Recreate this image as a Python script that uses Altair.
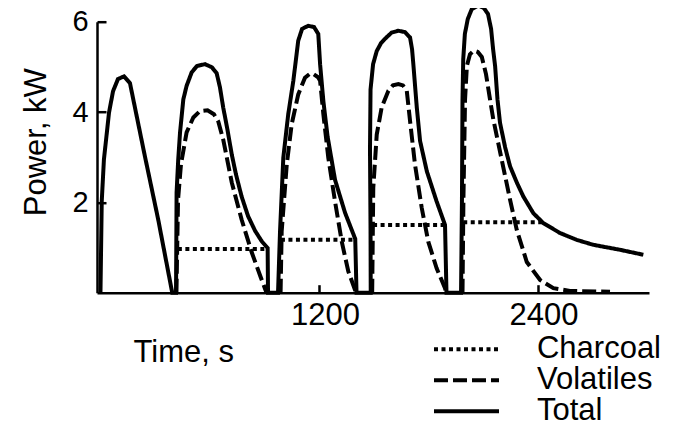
import altair as alt
import pandas as pd

# ---- data (time in s, power in kW) ----
total_t = [0, 7, 19, 47, 69, 96, 129, 162, 244, 317, 394, 415,
           418, 427, 437, 455, 473, 501, 530, 574, 612, 638, 656, 674, 695, 721, 744, 775, 810, 849, 887, 918, 920, 975,
           986, 1004, 1031, 1059, 1086, 1107, 1141, 1173, 1196, 1206, 1224, 1247, 1288, 1343, 1399, 1406, 1484,
           1483, 1480, 1483, 1497, 1517, 1541, 1562, 1599, 1636, 1672, 1700, 1711, 1718, 1737, 1755, 1792, 1846, 1892, 1900, 1980,
           1985, 1988, 1992, 2001, 2017, 2039, 2075, 2106, 2128, 2145, 2156, 2167, 2180, 2194, 2222, 2249, 2286, 2322, 2377, 2432,
           2524, 2615, 2706, 2853, 2981]
total_p = [0, 2.02, 2.95, 3.99, 4.46, 4.73, 4.79, 4.64, 3.02, 1.62, 0, 0,
           2.22, 2.95, 3.55, 4.28, 4.58, 4.88, 5.02, 5.06, 4.99, 4.86, 4.55, 4.10, 3.66, 3.06, 2.62, 2.13, 1.70, 1.37, 1.13, 0.99, 0, 0,
           1.36, 2.99, 3.95, 4.69, 5.58, 5.84, 5.91, 5.88, 5.73, 5.06, 4.24, 3.46, 2.50, 1.77, 1.19, 0, 0,
           1.39, 3.17, 4.50, 5.06, 5.35, 5.53, 5.62, 5.76, 5.80, 5.77, 5.65, 5.39, 5.06, 4.10, 3.36, 2.69, 2.02, 1.50, 0, 0,
           2.06, 4.28, 5.17, 5.73, 6.06, 6.28, 6.36, 6.30, 6.17, 5.84, 5.39, 5.02, 4.28, 3.76, 3.22, 2.80, 2.44, 2.13, 1.76, 1.54,
           1.32, 1.17, 1.06, 0.95, 0.84]

vol_segments = [
    ([417, 426, 442, 473, 510, 546, 588, 623, 647, 674, 721, 775, 830, 881, 912],
     [0, 2.06, 2.84, 3.55, 3.88, 4.02, 4.04, 3.95, 3.79, 3.39, 2.44, 1.62, 0.90, 0.33, 0]),
    ([989, 995, 1023, 1050, 1086, 1123, 1151, 1169, 1195, 1206, 1224, 1251, 1288, 1325, 1361, 1398, 1403],
     [0, 1.36, 2.84, 3.73, 4.39, 4.76, 4.85, 4.84, 4.77, 4.69, 3.95, 2.99, 2.02, 1.13, 0.47, 0.06, 0]),
    ([1492, 1498, 1517, 1544, 1581, 1606, 1636, 1661, 1682, 1700, 1727, 1764, 1800, 1846, 1892, 1898],
     [0, 2.32, 3.50, 4.10, 4.47, 4.59, 4.62, 4.59, 4.47, 3.80, 2.84, 1.88, 1.13, 0.54, 0.10, 0]),
    ([1988, 1993, 2002, 2012, 2029, 2050, 2072, 2094, 2117, 2139, 2157, 2203, 2249, 2286, 2341, 2414, 2487, 2578, 2798],
     [0, 2.06, 4.28, 5.02, 5.28, 5.36, 5.33, 5.22, 4.84, 4.28, 3.84, 2.95, 2.06, 1.39, 0.68, 0.28, 0.10, 0.04, 0.02]),
]

char_segments = [
    ([425, 918], [0.97, 0.97]),
    ([991, 1400], [1.17, 1.17]),
    ([1497, 1892], [1.50, 1.50]),
    ([1992, 2432], [1.56, 1.56]),
]

series_names = ["Charcoal", "Volatiles", "Total"]
x_ticks = [1200, 2400]
y_ticks = [2, 4, 6]

# ---- build long table ----
rows = []
for k, (ts, ps) in enumerate(char_segments):
    for i, (t, p) in enumerate(zip(ts, ps)):
        rows.append({"t": t, "P": p, "series": "Charcoal", "seg": f"c{k}", "i": i})
for k, (ts, ps) in enumerate(vol_segments):
    for i, (t, p) in enumerate(zip(ts, ps)):
        rows.append({"t": t, "P": p, "series": "Volatiles", "seg": f"v{k}", "i": i})
for i, (t, p) in enumerate(zip(total_t, total_p)):
    rows.append({"t": t, "P": p, "series": "Total", "seg": "z", "i": i})
df = pd.DataFrame(rows)

FONT = "Liberation Sans"
xscale = alt.Scale(domain=[-19, 3012], nice=False, zero=False)
yscale = alt.Scale(domain=[0, 6], nice=False, zero=False)

main = alt.Chart(df).mark_line(strokeWidth=4, color="black", clip=False, strokeCap="butt").encode(
    x=alt.X("t:Q", scale=xscale,
            axis=alt.Axis(values=x_ticks, format="d", ticks=False, domain=True, domainWidth=2.5,
                          domainColor="black", labelFontSize=31, labelFont=FONT, labelColor="black",
                          labelPadding=8, labelOffset=6,
                          grid=False, title="Time, s", titleFont=FONT, titleFontSize=31,
                          titleFontWeight="normal", titleColor="black", titleX=36, titleY=69,
                          titleAlign="left", titleBaseline="alphabetic", orient="bottom")),
    y=alt.Y("P:Q", scale=yscale,
            axis=alt.Axis(values=y_ticks, format="d", ticks=False, domain=True, domainWidth=2.5,
                          domainColor="black", labelFontSize=29, labelFont=FONT, labelColor="black",
                          labelPadding=9,
                          grid=False, title="Power, kW", titleFont=FONT, titleFontSize=31,
                          titleFontWeight="normal", titleColor="black", titleX=-52, titleY=120,
                          titleAngle=-90, titleAlign="center", titleBaseline="alphabetic", orient="left")),
    strokeDash=alt.StrokeDash("series:N",
                              scale=alt.Scale(domain=series_names, range=[[4, 3.5], [14, 5], [1, 0]]),
                              legend=alt.Legend(title=None, orient="none", legendX=354, legendY=312,
                                                symbolType="M-2.5,0H2.5", symbolSize=676, symbolStrokeWidth=4,
                                                symbolStrokeColor="black", labelFontSize=31, labelFont=FONT,
                                                labelColor="black", labelOffset=55, rowPadding=-5, padding=0)),
    detail="seg:N",
    order="i:Q",
)

ticks_layer = alt.Chart(df).mark_line(opacity=0).encode(
    x=alt.X("t:Q", scale=xscale,
            axis=alt.Axis(values=x_ticks, ticks=True, tickSize=8, tickWidth=2.5, tickColor="black",
                          labels=False, domain=False, grid=False, title=None, offset=-8, orient="bottom")),
    y=alt.Y("P:Q", scale=yscale,
            axis=alt.Axis(values=y_ticks, ticks=True, tickSize=9, tickWidth=2.5, tickColor="black",
                          labels=False, domain=False, grid=False, title=None, offset=-9, orient="left")),
    detail="seg:N",
    order="i:Q",
)

chart = alt.layer(ticks_layer, main).resolve_axis(x="independent", y="independent").properties(
    width=552, height=271,
    padding={"left": 89, "top": 13.7, "right": 20, "bottom": 128},
    autosize=alt.AutoSizeParams(type="none"),
    background="white",
).configure_view(stroke=None)

chart.save("out.html", embed_options={"renderer": "svg", "actions": False})
